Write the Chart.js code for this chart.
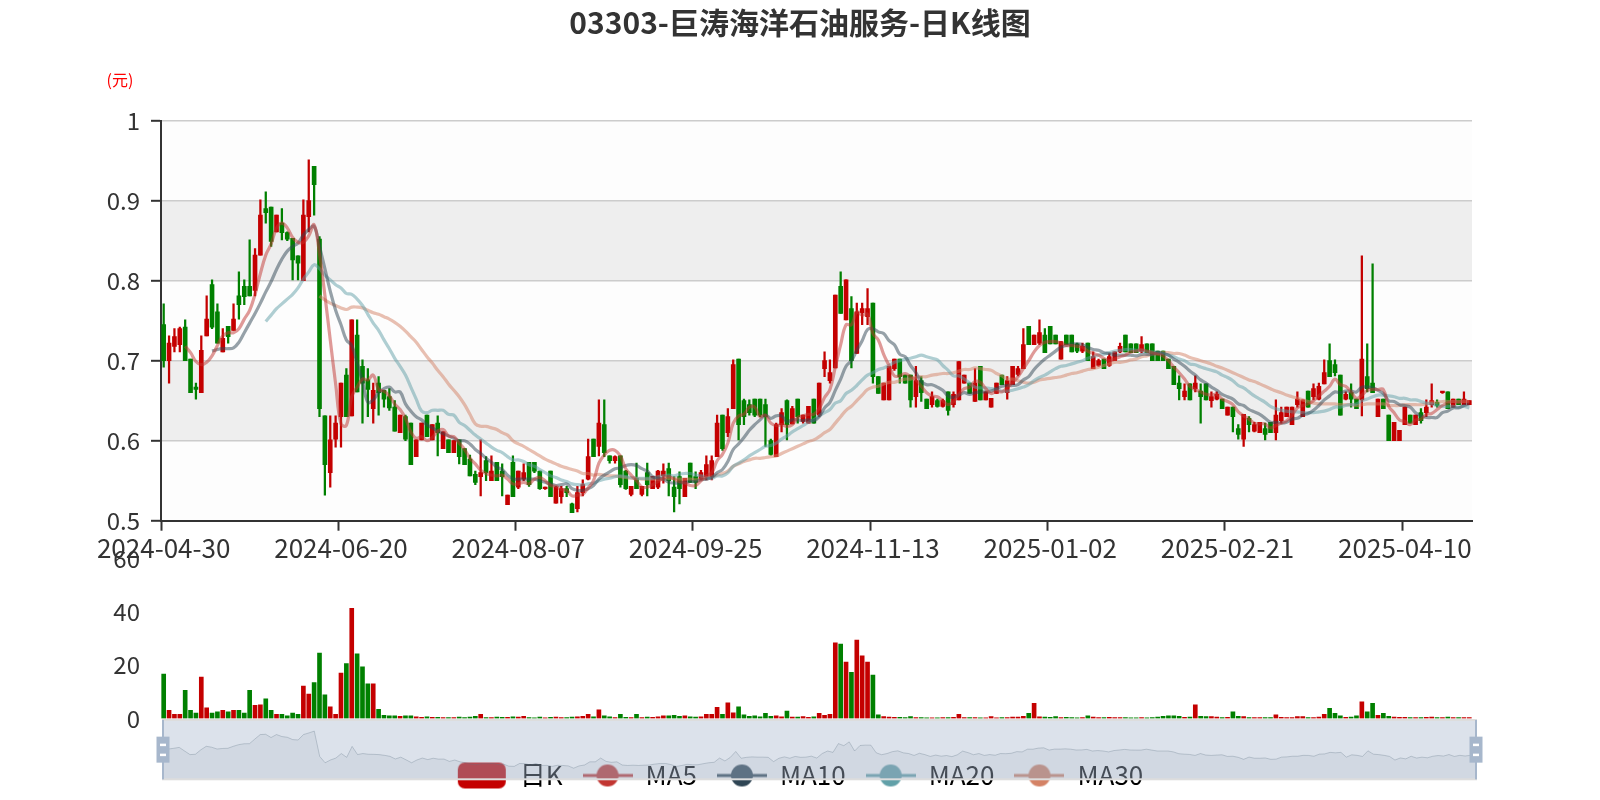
<!DOCTYPE html>
<html>
<head>
<meta charset="utf-8">
<script src="https://cdn.jsdelivr.net/npm/chart.js@4"></script>
<style>
  html, body { margin: 0; padding: 0; background: #fff; }
  #wrap { position: relative; width: 1600px; height: 800px; overflow: hidden; }
  #wrap canvas { position: absolute; left: 0; }
</style>
</head>
<body>
<div id="wrap">
  <canvas id="kline" width="1600" height="800" style="top:0"></canvas>
  <canvas id="volume" width="1600" height="206" style="top:530px"></canvas>
  <canvas id="zoomBar" width="1600" height="100" style="top:700px"></canvas>
</div>
<script>
// trading days per month (HK market)
const tradeDays = {
  '2024-04': [30],
  '2024-05': [3, 6, 7, 8, 9, 10, 13, 14, 16, 17, 20, 21, 22, 23, 24, 27, 28, 29, 30, 31],
  '2024-06': [3, 4, 5, 6, 7, 11, 12, 13, 14, 17, 18, 19, 20, 21, 24, 25, 26, 27, 28],
  '2024-07': [2, 3, 4, 5, 8, 9, 10, 11, 12, 15, 16, 17, 18, 19, 22, 23, 24, 25, 26, 29, 30, 31],
  '2024-08': [1, 2, 5, 6, 7, 8, 9, 12, 13, 14, 15, 16, 19, 20, 21, 22, 23, 26, 27, 28, 29, 30],
  '2024-09': [2, 3, 4, 5, 9, 10, 11, 12, 13, 16, 17, 19, 20, 23, 24, 25, 26, 27, 30],
  '2024-10': [2, 3, 4, 7, 8, 9, 10, 14, 15, 16, 17, 18, 21, 22, 23, 24, 25, 28, 29, 30, 31],
  '2024-11': [1, 4, 5, 6, 7, 8, 11, 12, 13, 14, 15, 18, 19, 20, 21, 22, 25, 26, 27, 28, 29],
  '2024-12': [2, 3, 4, 5, 6, 9, 10, 11, 12, 13, 16, 17, 18, 19, 20, 23, 24, 27, 30, 31],
  '2025-01': [2, 3, 6, 7, 8, 9, 10, 13, 14, 15, 16, 17, 20, 21, 22, 23, 24, 27, 28],
  '2025-02': [3, 4, 5, 6, 7, 10, 11, 12, 13, 14, 17, 18, 19, 20, 21, 24, 25, 26, 27, 28],
  '2025-03': [3, 4, 5, 6, 7, 10, 11, 12, 13, 14, 17, 18, 19, 20, 21, 24, 25, 26, 27, 28, 31],
  '2025-04': [1, 2, 3, 7, 8, 9, 10, 11, 14, 15, 16, 17, 22, 23, 24, 25, 28, 29, 30]
};

const opens = [
  0.745,0.700,0.718,0.720,0.742,0.702,0.667,0.660,0.731,0.795,
  0.761,0.711,0.743,0.738,0.781,0.793,0.793,0.788,0.832,0.890,
  0.892,0.861,0.872,0.860,0.853,0.831,0.800,0.880,0.943,0.852,
  0.631,0.560,0.602,0.630,0.682,0.631,0.732,0.693,0.676,0.640,
  0.672,0.663,0.655,0.642,0.610,0.630,0.622,0.580,0.601,0.632,
  0.601,0.622,0.590,0.601,0.585,0.601,0.590,0.577,0.558,0.555,
  0.575,0.550,0.573,0.562,0.520,0.573,0.542,0.552,0.573,0.573,
  0.562,0.540,0.562,0.522,0.530,0.540,0.521,0.515,0.535,0.552,
  0.602,0.593,0.620,0.581,0.575,0.581,0.562,0.533,0.553,0.533,
  0.560,0.540,0.542,0.556,0.565,0.542,0.555,0.530,0.572,0.555,
  0.552,0.555,0.555,0.580,0.632,0.610,0.640,0.702,0.650,0.645,
  0.652,0.652,0.645,0.600,0.580,0.620,0.650,0.621,0.652,0.624,
  0.622,0.652,0.632,0.690,0.675,0.691,0.793,0.751,0.765,0.709,
  0.760,0.755,0.772,0.680,0.651,0.651,0.690,0.702,0.682,0.682,
  0.655,0.675,0.652,0.645,0.650,0.643,0.661,0.645,0.651,0.672,
  0.672,0.649,0.693,0.651,0.642,0.659,0.682,0.660,0.670,0.683,
  0.690,0.743,0.720,0.722,0.732,0.743,0.732,0.702,0.732,0.732,
  0.721,0.712,0.722,0.690,0.694,0.702,0.694,0.700,0.711,0.732,
  0.721,0.721,0.712,0.721,0.721,0.712,0.712,0.702,0.693,0.672,
  0.655,0.671,0.665,0.662,0.671,0.650,0.652,0.652,0.632,0.642,
  0.615,0.602,0.628,0.612,0.610,0.615,0.623,0.610,0.625,0.630,
  0.620,0.645,0.630,0.662,0.655,0.652,0.671,0.700,0.695,0.682,
  0.652,0.660,0.652,0.651,0.680,0.672,0.630,0.652,0.632,0.600,
  0.600,0.620,0.632,0.620,0.635,0.635,0.645,0.648,0.660,0.661,
  0.642,0.652,0.645,0.645
];
const closes = [
  0.700,0.722,0.730,0.740,0.700,0.660,0.664,0.713,0.752,0.742,
  0.722,0.728,0.730,0.752,0.770,0.780,0.781,0.832,0.882,0.885,
  0.849,0.882,0.860,0.852,0.826,0.822,0.882,0.900,0.920,0.640,
  0.570,0.601,0.622,0.672,0.630,0.751,0.661,0.672,0.664,0.663,
  0.660,0.652,0.641,0.612,0.632,0.602,0.570,0.601,0.622,0.605,
  0.620,0.610,0.611,0.585,0.600,0.580,0.570,0.556,0.548,0.560,
  0.560,0.562,0.550,0.555,0.532,0.530,0.562,0.560,0.545,0.562,
  0.540,0.541,0.530,0.542,0.540,0.535,0.510,0.535,0.545,0.580,
  0.580,0.622,0.585,0.575,0.580,0.545,0.540,0.543,0.540,0.543,
  0.545,0.555,0.562,0.562,0.550,0.530,0.540,0.553,0.548,0.548,
  0.560,0.570,0.575,0.622,0.590,0.630,0.695,0.620,0.630,0.635,
  0.632,0.632,0.630,0.583,0.620,0.635,0.620,0.640,0.630,0.632,
  0.643,0.622,0.672,0.700,0.685,0.782,0.759,0.801,0.700,0.761,
  0.765,0.765,0.680,0.659,0.672,0.693,0.702,0.680,0.672,0.651,
  0.675,0.660,0.640,0.655,0.643,0.650,0.638,0.658,0.699,0.682,
  0.659,0.672,0.651,0.661,0.653,0.672,0.670,0.675,0.693,0.690,
  0.720,0.720,0.732,0.735,0.710,0.721,0.721,0.724,0.720,0.711,
  0.712,0.718,0.700,0.705,0.700,0.690,0.705,0.711,0.718,0.711,
  0.710,0.710,0.720,0.710,0.700,0.700,0.700,0.690,0.670,0.665,
  0.662,0.651,0.672,0.655,0.651,0.655,0.658,0.640,0.642,0.630,
  0.608,0.633,0.620,0.620,0.623,0.608,0.610,0.632,0.635,0.642,
  0.642,0.652,0.651,0.642,0.665,0.668,0.685,0.680,0.685,0.632,
  0.658,0.652,0.640,0.702,0.665,0.660,0.652,0.640,0.600,0.623,
  0.613,0.642,0.622,0.632,0.625,0.642,0.650,0.644,0.661,0.640,
  0.652,0.645,0.652,0.650
];
const highs = [
  0.771,0.731,0.740,0.742,0.751,0.702,0.672,0.731,0.781,0.801,
  0.771,0.740,0.743,0.771,0.811,0.801,0.851,0.840,0.901,0.911,
  0.892,0.882,0.890,0.861,0.853,0.831,0.901,0.951,0.943,0.855,
  0.631,0.631,0.631,0.672,0.690,0.751,0.751,0.701,0.690,0.672,
  0.680,0.663,0.665,0.650,0.632,0.632,0.622,0.601,0.622,0.632,
  0.620,0.631,0.611,0.601,0.600,0.601,0.590,0.582,0.562,0.601,
  0.580,0.581,0.573,0.571,0.532,0.581,0.562,0.571,0.573,0.573,
  0.562,0.542,0.562,0.543,0.543,0.543,0.522,0.543,0.551,0.602,
  0.602,0.651,0.651,0.581,0.581,0.581,0.563,0.543,0.572,0.543,
  0.572,0.555,0.563,0.571,0.572,0.555,0.561,0.553,0.572,0.561,
  0.563,0.581,0.581,0.632,0.632,0.640,0.701,0.702,0.652,0.651,
  0.652,0.652,0.652,0.602,0.622,0.640,0.651,0.643,0.652,0.632,
  0.643,0.652,0.672,0.711,0.701,0.782,0.811,0.801,0.780,0.772,
  0.772,0.790,0.772,0.680,0.672,0.693,0.702,0.702,0.682,0.682,
  0.693,0.680,0.652,0.661,0.652,0.652,0.661,0.661,0.699,0.682,
  0.672,0.690,0.693,0.661,0.653,0.672,0.682,0.680,0.693,0.693,
  0.740,0.743,0.732,0.751,0.740,0.743,0.732,0.724,0.732,0.732,
  0.722,0.722,0.722,0.711,0.702,0.702,0.709,0.711,0.722,0.732,
  0.721,0.721,0.730,0.721,0.721,0.712,0.712,0.702,0.693,0.681,
  0.671,0.671,0.681,0.671,0.671,0.661,0.661,0.652,0.642,0.642,
  0.620,0.633,0.630,0.623,0.623,0.622,0.623,0.651,0.642,0.642,
  0.642,0.661,0.651,0.662,0.671,0.672,0.701,0.721,0.701,0.682,
  0.661,0.671,0.652,0.831,0.721,0.821,0.652,0.652,0.632,0.623,
  0.613,0.642,0.632,0.632,0.640,0.651,0.671,0.651,0.661,0.661,
  0.652,0.652,0.661,0.650
];
const lows = [
  0.692,0.672,0.711,0.711,0.700,0.660,0.652,0.660,0.731,0.740,
  0.722,0.711,0.722,0.738,0.752,0.770,0.781,0.781,0.832,0.872,
  0.843,0.861,0.851,0.850,0.801,0.801,0.800,0.861,0.882,0.630,
  0.532,0.542,0.592,0.592,0.630,0.631,0.661,0.622,0.630,0.622,
  0.632,0.642,0.638,0.612,0.610,0.600,0.570,0.580,0.601,0.605,
  0.601,0.581,0.590,0.585,0.585,0.571,0.570,0.556,0.545,0.531,
  0.550,0.550,0.550,0.531,0.520,0.530,0.540,0.550,0.543,0.560,
  0.539,0.539,0.530,0.522,0.522,0.530,0.510,0.511,0.531,0.551,
  0.580,0.581,0.580,0.572,0.572,0.542,0.539,0.531,0.540,0.531,
  0.531,0.540,0.540,0.547,0.531,0.511,0.521,0.530,0.548,0.540,
  0.551,0.551,0.551,0.580,0.588,0.605,0.640,0.601,0.620,0.632,
  0.630,0.630,0.593,0.582,0.580,0.611,0.601,0.621,0.622,0.622,
  0.622,0.622,0.630,0.680,0.672,0.691,0.759,0.751,0.691,0.709,
  0.745,0.745,0.672,0.659,0.651,0.651,0.688,0.672,0.672,0.642,
  0.642,0.649,0.640,0.642,0.642,0.642,0.632,0.642,0.651,0.672,
  0.659,0.649,0.651,0.651,0.642,0.659,0.670,0.652,0.670,0.681,
  0.690,0.720,0.720,0.720,0.710,0.721,0.721,0.702,0.720,0.711,
  0.710,0.710,0.700,0.690,0.693,0.690,0.693,0.700,0.710,0.711,
  0.710,0.710,0.710,0.710,0.700,0.700,0.700,0.690,0.670,0.651,
  0.651,0.651,0.661,0.622,0.651,0.642,0.651,0.640,0.632,0.611,
  0.602,0.593,0.611,0.611,0.610,0.601,0.610,0.601,0.622,0.630,
  0.620,0.642,0.630,0.642,0.651,0.651,0.671,0.680,0.681,0.632,
  0.651,0.642,0.640,0.631,0.661,0.660,0.630,0.640,0.600,0.600,
  0.600,0.620,0.622,0.620,0.622,0.630,0.642,0.642,0.659,0.640,
  0.642,0.645,0.645,0.645
];
const volumes = [
  16.7,3.0,1.5,1.5,10.6,3.0,2.0,15.6,4.0,2.0,
  2.5,3.0,2.5,3.0,3.0,2.0,10.6,4.9,5.1,7.4,
  3.0,1.5,1.5,1.0,2.0,1.5,12.2,9.2,13.5,24.6,
  8.9,4.4,1.5,17.1,20.7,41.5,24.3,19.4,13.0,13.0,
  3.4,1.2,1.0,1.0,0.8,1.0,1.0,0.6,0.4,0.6,
  0.4,0.4,0.3,0.3,0.3,0.5,0.3,0.5,0.8,1.5,
  0.3,0.3,0.5,0.4,0.4,0.6,0.5,0.8,0.3,0.2,
  0.5,0.2,0.4,0.5,0.3,0.3,0.5,0.6,0.8,1.5,
  0.6,3.2,1.0,0.6,0.3,1.5,0.4,0.3,1.5,0.3,
  0.5,0.4,0.6,1.0,1.0,1.2,0.8,1.0,0.6,0.5,
  0.6,1.5,1.5,4.2,1.5,5.9,2.1,4.4,1.3,0.8,
  1.0,0.6,1.9,0.8,1.0,0.6,2.8,0.5,0.5,0.7,
  0.4,0.6,1.9,1.2,1.5,28.5,28.0,21.2,17.4,29.5,
  23.6,21.2,16.3,1.3,0.65,0.5,0.4,0.4,0.3,0.65,
  0.3,0.3,0.2,0.2,0.2,0.3,0.3,0.4,1.5,0.3,
  0.3,0.3,0.2,0.2,0.65,0.2,0.3,0.3,0.5,0.5,
  0.8,1.9,5.7,0.6,0.5,0.4,0.65,0.3,0.4,0.3,
  0.2,0.3,1.0,0.5,0.3,0.3,0.4,0.3,0.3,0.3,
  0.2,0.2,0.3,0.2,0.3,0.5,0.8,1.0,1.0,0.8,
  0.4,0.5,5.1,0.8,0.65,0.65,0.5,0.3,0.4,2.5,
  0.8,0.65,0.3,0.3,0.3,0.3,0.3,1.3,0.4,0.3,
  0.3,0.65,0.65,0.3,0.3,0.5,1.5,3.8,1.9,1.0,
  0.4,0.5,1.0,6.2,2.5,5.7,1.2,1.9,0.8,0.5,
  0.4,0.4,0.3,0.3,0.3,0.4,0.5,0.3,0.3,0.5,
  0.3,0.3,0.3,0.3
];

const seriesNames = ['日K', 'MA5', 'MA10', 'MA20', 'MA30'];
const maDays = [5, 10, 20, 30];
const maColors = ['#c23531', '#2f4554', '#61a0a8', '#d48265'];
const priceTicks = [0.5, 1, 0.1];
const volumeTicks = [0, 60, 20];
const labelEvery = 33;

const FONT = '"Noto Sans CJK SC", "Microsoft YaHei", sans-serif';
const UP = '#c40000';
const DOWN = '#008000';

const dates = [];
Object.keys(tradeDays).forEach(m => {
  tradeDays[m].forEach(d => dates.push(m + '-' + String(d).padStart(2, '0')));
});

const candleColors = closes.map((c, i) => c >= opens[i] ? UP : DOWN);

function calcMA(n) {
  return closes.map((c, i) => {
    if (i < n - 1) return null;
    let sum = 0;
    for (let j = i - n + 1; j <= i; j++) sum += closes[j];
    return +(sum / n).toFixed(3);
  });
}

function withAlpha(hex, a) {
  const n = parseInt(hex.slice(1), 16);
  return 'rgba(' + (n >> 16) + ',' + ((n >> 8) & 255) + ',' + (n & 255) + ',' + a + ')';
}

// legend icons in echarts style
function legendIcon(kind, color) {
  const c = document.createElement('canvas');
  c.width = 50; c.height = 28;
  const g = c.getContext('2d');
  g.fillStyle = color;
  g.strokeStyle = color;
  if (kind === 'rect') {
    g.beginPath();
    g.roundRect(1, 1, 48, 26, 7);
    g.fill();
  } else {
    g.lineWidth = 3;
    g.beginPath(); g.moveTo(0, 14); g.lineTo(50, 14); g.stroke();
    g.beginPath(); g.arc(25, 14, 11, 0, Math.PI * 2); g.fill();
  }
  return c;
}

const splitArea = {
  id: 'splitArea',
  beforeDraw(chart) {
    const { ctx, chartArea, scales } = chart;
    const y = scales.y;
    ctx.save();
    for (let k = 0; k < y.ticks.length - 1; k++) {
      const a = y.getPixelForValue(y.ticks[k].value);
      const b = y.getPixelForValue(y.ticks[k + 1].value);
      ctx.fillStyle = k % 2 === 0 ? 'rgba(250,250,250,0.3)' : 'rgba(200,200,200,0.3)';
      ctx.fillRect(chartArea.left, Math.min(a, b), chartArea.right - chartArea.left, Math.abs(a - b));
    }
    ctx.restore();
  }
};

const axisName = {
  id: 'axisName',
  afterDraw(chart) {
    const ctx = chart.ctx;
    ctx.save();
    ctx.fillStyle = '#ff0000';
    ctx.font = '16px ' + FONT;
    ctx.textAlign = 'center';
    ctx.textBaseline = 'middle';
    ctx.fillText('(元)', 120, 80);
    ctx.restore();
  }
};

const padAxis = {
  display: true, position: 'right',
  grid: { display: false, drawTicks: false }, border: { display: false }, ticks: { display: false },
  afterFit(s) { s.width = 64; }
};

// === K线 ===
new Chart(document.getElementById('kline'), {
  data: {
    labels: dates,
    datasets: [
      {
        type: 'bar', label: 'wick', data: lows.map((l, i) => [l, highs[i]]),
        backgroundColor: candleColors, barThickness: 1.6, grouped: false, order: 20
      },
      {
        type: 'bar', label: seriesNames[0], data: opens.map((o, i) => [o, closes[i]]),
        backgroundColor: candleColors, barThickness: 4, minBarLength: 1.5, grouped: false, order: 10
      },
      ...maDays.map((n, k) => ({
        type: 'line', label: seriesNames[k + 1], data: calcMA(n),
        borderColor: withAlpha(maColors[k], 0.5), borderWidth: 3.2,
        pointRadius: 0, tension: 0.4, order: 1
      }))
    ]
  },
  options: {
    responsive: false, animation: false, events: [],
    layout: { padding: { left: 64, right: 64, top: 0, bottom: 1.5 } },
    scales: {
      x: {
        type: 'category', offset: true,
        grid: {
          offset: true, drawOnChartArea: false, tickLength: 10, tickWidth: 2,
          tickColor: c => (c.index % labelEvery === 0 || c.index === dates.length) ? '#333' : 'rgba(0,0,0,0)'
        },
        border: { color: '#333', width: 2 },
        ticks: {
          autoSkip: false, maxRotation: 0, minRotation: 0, padding: 2, color: '#333',
          font: { family: FONT, size: 26 },
          callback: (v, i) => i % labelEvery === 0 ? dates[i] : ''
        },
        afterFit(s) { s.height = 221.8; }
      },
      y: {
        min: priceTicks[0], max: priceTicks[1],
        grid: { color: '#cccccc', lineWidth: 1.6, tickLength: 10, tickColor: '#333', tickWidth: 2 },
        border: { color: '#333', width: 2 },
        ticks: {
          stepSize: priceTicks[2], padding: 11, color: '#333',
          font: { family: FONT, size: 24 },
          callback: v => String(+v.toFixed(2))
        },
        afterFit(s) { s.width = 97; }
      },
      pad: padAxis
    },
    plugins: {
      title: {
        display: true, text: '03303-巨涛海洋石油服务-日K线图', color: '#333',
        font: { family: FONT, size: 30, weight: 'bold' },
        padding: { top: 5, bottom: 79.7 }
      },
      legend: {
        position: 'bottom',
        labels: {
          usePointStyle: true, pointStyleWidth: 50, padding: 20, color: '#333',
          font: { family: FONT, size: 26 },
          generateLabels: () => seriesNames.map((name, k) => ({
            text: name,
            pointStyle: k === 0 ? legendIcon('rect', UP) : legendIcon('line', maColors[k - 1]),
            fillStyle: k === 0 ? UP : maColors[k - 1],
            strokeStyle: 'rgba(0,0,0,0)', lineWidth: 0, hidden: false, datasetIndex: k + 1
          }))
        }
      },
      tooltip: { enabled: false }
    }
  },
  plugins: [splitArea, axisName]
});

// === 成交量 ===
new Chart(document.getElementById('volume'), {
  type: 'bar',
  data: {
    labels: dates,
    datasets: [{ label: '成交量', data: volumes, backgroundColor: candleColors, barThickness: 4 }]
  },
  options: {
    responsive: false, animation: false, events: [],
    layout: { padding: { left: 64, right: 64, top: 29.2, bottom: 17.6 } },
    scales: {
      x: { display: false, offset: true },
      y: {
        min: volumeTicks[0], max: volumeTicks[1],
        grid: { display: false, drawTicks: true, tickLength: 18, tickColor: 'rgba(0,0,0,0)' },
        border: { display: false },
        ticks: { stepSize: volumeTicks[2], padding: 3, color: '#333', font: { family: FONT, size: 24 } },
        afterFit(s) { s.width = 97; }
      },
      pad: padAxis
    },
    plugins: { legend: { display: false }, tooltip: { enabled: false } }
  }
});

// === dataZoom 滑块 ===
function drawHandle(ctx, x, top, bottom) {
  const mid = (top + bottom) / 2;
  ctx.fillStyle = '#a7b7cc';
  ctx.fillRect(x - 1, top, 2, bottom - top);
  ctx.fillRect(x - 6.5, mid - 13, 13, 26);
  ctx.fillStyle = '#ffffff';
  ctx.fillRect(x - 3, mid - 6, 6, 2.5);
  ctx.fillRect(x - 3, mid + 4, 6, 2.5);
}

const slider = {
  id: 'slider',
  afterDraw(chart) {
    const { ctx, chartArea: a } = chart;
    ctx.save();
    ctx.fillStyle = 'rgba(167,183,204,0.4)';
    ctx.fillRect(a.left, a.top, a.right - a.left, a.bottom - a.top);
    ctx.strokeStyle = '#dddddd';
    ctx.lineWidth = 2;
    ctx.strokeRect(a.left, a.top, a.right - a.left, a.bottom - a.top);
    drawHandle(ctx, a.left, a.top, a.bottom);
    drawHandle(ctx, a.right, a.top, a.bottom);
    ctx.restore();
  }
};

const cMin = Math.min(...closes), cMax = Math.max(...closes);
const cPad = (cMax - cMin) * 0.3;

new Chart(document.getElementById('zoomBar'), {
  type: 'line',
  data: {
    labels: dates,
    datasets: [{
      data: closes, borderColor: 'rgba(47,69,84,0.3)', borderWidth: 1,
      backgroundColor: 'rgba(47,69,84,0.09)', fill: 'start', pointRadius: 0, tension: 0
    }]
  },
  options: {
    responsive: false, animation: false, events: [],
    layout: { padding: { left: 163, right: 124, top: 20, bottom: 20.7 } },
    scales: {
      x: { display: false, offset: false },
      y: { display: false, min: cMin - cPad, max: cMax + cPad }
    },
    plugins: { legend: { display: false }, tooltip: { enabled: false } }
  },
  plugins: [slider]
});
</script>
</body>
</html>
